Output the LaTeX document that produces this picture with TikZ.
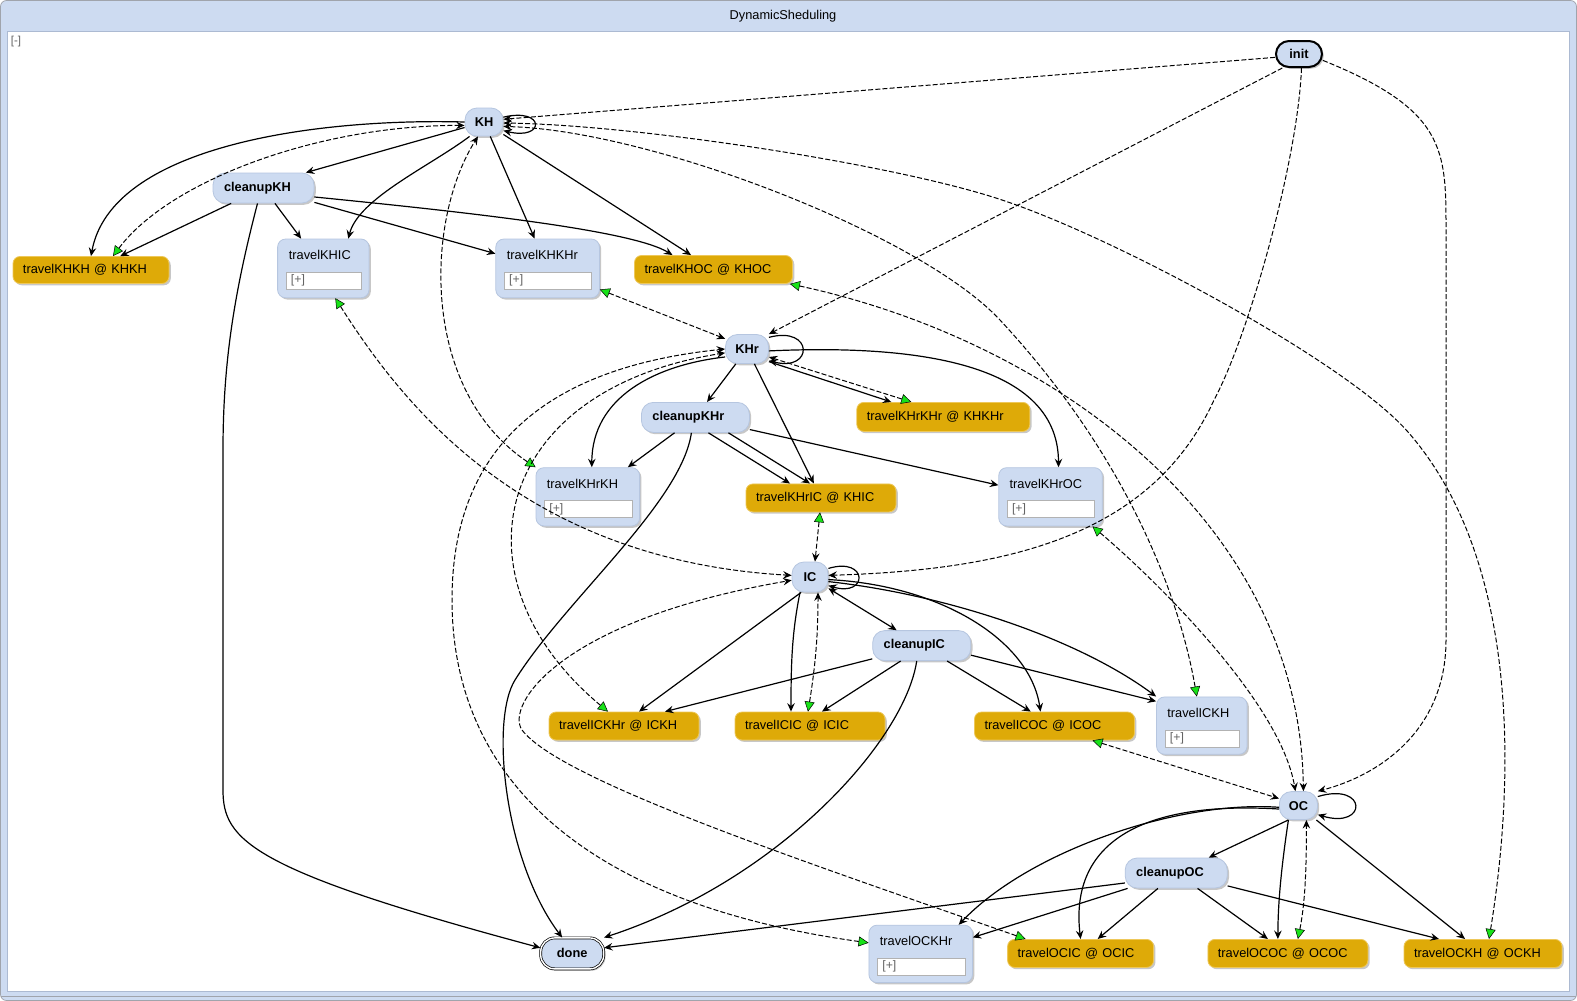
\documentclass[tikz,border=0pt]{standalone}
\usepackage{fontspec}
\setmainfont{Liberation Sans}
\usetikzlibrary{arrows.meta,shadows}

\definecolor{paneblue}{RGB}{205,219,241}
\definecolor{paneline}{RGB}{172,186,210}
\definecolor{framegrey}{RGB}{160,164,172}
\definecolor{stateblue}{RGB}{205,219,241}
\definecolor{stateline}{RGB}{182,198,224}
\definecolor{actiongold}{RGB}{222,170,8}
\definecolor{actionline}{RGB}{238,200,90}
\definecolor{exitgreen}{RGB}{24,226,24}
\definecolor{fieldline}{RGB}{178,178,178}
\definecolor{fieldtext}{RGB}{100,100,100}

\tikzset{every picture/.style={line width=0.75pt}}
\tikzset{
  softshadow/.style={drop shadow={shadow xshift=1.8pt,shadow yshift=-1.8pt,fill=black,opacity=0.22}},
  state/.style={softshadow, rounded corners=12pt, fill=stateblue, draw=stateline, line width=0.8pt, inner sep=0pt, font=\fontsize{12.8}{15}\selectfont\bfseries},
  cleanupstate/.style={state, inner xsep=11pt, text width=#1, align=left, minimum height=30pt},
  initstate/.style={state, draw=black, line width=2pt, rounded corners=13pt},
  finalstate/.style={state, draw=black, line width=0.7pt, double=white, double distance=1.4pt, rounded corners=14pt},
  action/.style={softshadow, rounded corners=7pt, fill=actiongold, draw=actionline, line width=0.8pt, inner xsep=10pt, inner ysep=0pt, minimum height=28pt, text width=#1, align=left, font=\fontsize{12.8}{15}\selectfont},
  travelbox/.style={softshadow, rounded corners=8pt, fill=stateblue, draw=stateline, line width=0.8pt, inner sep=0pt},
  boxtitle/.style={anchor=west, inner sep=0pt, font=\fontsize{12.8}{15}\selectfont},
  plusfield/.style={anchor=north west, draw=fieldline, fill=white, line width=0.7pt, inner xsep=5pt, inner ysep=0pt, minimum height=17pt, text width=#1, align=left, text=fieldtext, font=\fontsize{12.3}{14}\selectfont},
  trans/.style={line width=1.2pt, -{Stealth[length=8.5pt,width=7.5pt,inset=3pt]}},
  twoway/.style={line width=1.2pt, {Stealth[length=8.5pt,width=7.5pt,inset=3pt]}-{Stealth[length=8.5pt,width=7.5pt,inset=3pt]}},
  entry/.style={line width=1pt, dash pattern=on 5pt off 2.2pt, -{Stealth[length=8.5pt,width=7.5pt,inset=3pt]}},
  exit/.style={line width=1pt, dash pattern=on 5pt off 2.2pt, {Triangle[length=10pt,width=10pt,fill=exitgreen,line width=0.5pt]}-{Stealth[length=8.5pt,width=7.5pt,inset=3pt]}},
}

\begin{document}
\begin{tikzpicture}[x=1pt,y=1pt,yscale=-1,xscale=1]
  \useasboundingbox (0,0) rectangle (1577,1001);

  %Shape: Window frame
  \draw[draw=framegrey, fill=paneblue, rounded corners=6pt] (0.5,0.5) rectangle (1576.5,1000.5);
  \draw[draw=framegrey] (1,996) -- (1576,996);
  %Shape: Pane
  \draw[draw=paneline, fill=white] (7,31.5) rectangle (1569.5,991);
  % Text Node
  \node[font=\fontsize{12.8}{15}\selectfont] (title) at (783,16.5) {DynamicSheduling};
  % Text Node
  \node[anchor=west, inner sep=0pt, text=fieldtext, font=\fontsize{11.5}{13}\selectfont] (collapse) at (10.5,41.5) {[-]};

  %State: init
  \node[initstate, minimum width=46pt, minimum height=26pt] (init) at (1299,54) {init};
  %State: KH
  \node[state, minimum width=38pt, minimum height=28pt] (KH) at (484,122) {KH};
  \node[cleanupstate=79pt] (cKH) at (263.5,188) {cleanupKH};
  \node[action=136pt, minimum height=27pt] (tKHKH) at (91,270) {travelKHKH @ KHKH};
  \node[travelbox, minimum width=91.4pt, minimum height=58.7pt] (tKHIC) at (323.3,268.4) {};
  \node[boxtitle] (tKHIC-title) at (288.5,255) {travelKHIC};
  \node[plusfield=65.4pt] (tKHIC-field) at (285.6,271.5) {[+]};
  \node[travelbox, minimum width=103.6pt, minimum height=58.7pt] (tKHKHr) at (547.6,268.4) {};
  \node[boxtitle] (tKHKHr-title) at (506.5,255) {travelKHKHr};
  \node[plusfield=77.6pt] (tKHKHr-field) at (503.8,271.5) {[+]};
  \node[action=138pt] (tKHOC) at (713.5,269.5) {travelKHOC @ KHOC};

  %State: KHr
  \node[state, minimum width=43pt, minimum height=29pt] (KHr) at (747,349) {KHr};
  \node[cleanupstate=86pt] (cKHr) at (695.4,417.4) {cleanupKHr};
  \node[action=153pt, minimum height=29pt] (tKHrKHr) at (943.3,416.9) {travelKHrKHr @ KHKHr};
  \node[travelbox, minimum width=103.6pt, minimum height=58.3pt] (tKHrKH) at (587.8,496.8) {};
  \node[boxtitle] (tKHrKH-title) at (546.5,483.7) {travelKHrKH};
  \node[plusfield=77.6pt] (tKHrKH-field) at (544,500.2) {[+]};
  \node[action=130pt] (tKHrIC) at (821,497.9) {travelKHrIC @ KHIC};
  \node[travelbox, minimum width=103.5pt, minimum height=58.3pt] (tKHrOC) at (1050.5,496.8) {};
  \node[boxtitle] (tKHrOC-title) at (1009.2,483.7) {travelKHrOC};
  \node[plusfield=77.5pt] (tKHrOC-field) at (1006.7,500.2) {[+]};

  %State: IC
  \node[state, minimum width=36pt, minimum height=30pt] (IC) at (810,577) {IC};
  \node[cleanupstate=76pt] (cIC) at (921.7,645.6) {cleanupIC};
  \node[action=130pt] (tICKHr) at (624,726) {travelICKHr @ ICKH};
  \node[action=130pt] (tICIC) at (810,726) {travelICIC @ ICIC};
  \node[action=140pt] (tICOC) at (1054.5,726) {travelICOC @ ICOC};
  \node[travelbox, minimum width=90.5pt, minimum height=57.3pt] (tICKH) at (1201.8,725.6) {};
  \node[boxtitle] (tICKH-title) at (1167,713) {travelICKH};
  \node[plusfield=64.5pt] (tICKH-field) at (1164.6,729.5) {[+]};

  %State: OC
  \node[state, minimum width=38pt, minimum height=28pt] (OC) at (1298.4,805.6) {OC};
  \node[cleanupstate=80pt] (cOC) at (1176.2,873) {cleanupOC};
  \node[finalstate, minimum width=63pt, minimum height=31pt] (done) at (572.2,953.4) {done};
  \node[travelbox, minimum width=103.5pt, minimum height=57.4pt] (tOCKHr) at (920.7,953.9) {};
  \node[boxtitle] (tOCKHr-title) at (879.5,941.2) {travelOCKHr};
  \node[plusfield=77.5pt] (tOCKHr-field) at (877,957.7) {[+]};
  \node[action=126pt] (tOCIC) at (1080.6,953.4) {travelOCIC @ OCIC};
  \node[action=140pt] (tOCOC) at (1287.9,953.4) {travelOCOC @ OCOC};
  \node[action=138pt] (tOCKH) at (1483,953.4) {travelOCKH @ OCKH};

  %Transitions: init
  \draw[entry] (init.188) -- (KH.8);
  \draw[entry] (init.220) -- (KHr.north east);
  \draw[entry] (init.-80) .. controls (1298,160) and (1249,335) .. (1214,400) .. controls (1150,540) and (1000,570) .. (IC.5);
  \draw[entry] (init.-15) .. controls (1446,110) and (1446,150) .. (1446,230) -- (1446,640) .. controls (1446,730) and (1380,775) .. (OC.north east);

  %Transitions: KH
  \draw[trans] (KH.14) .. controls +(42,-10) and +(42,10) .. (KH.-24);
  \draw[trans] (KH) -- (cKH.20);
  \draw[trans] (KH.west) .. controls +(-150,-4) and +(20,-110) .. (tKHKH.north);
  \draw[trans] (cKH) -- (tKHKH);
  \draw[trans] (KH.225) .. controls +(-40,30) and +(10,-40) .. ([xshift=25pt]tKHIC.north);
  \draw[trans] (cKH) -- (tKHIC);
  \draw[trans] (KH) -- (tKHKHr);
  \draw[trans] (cKH) -- (tKHKHr);
  \draw[trans] (KH) -- (tKHOC);
  \draw[trans] (cKH.-10) .. controls +(150,15) and +(-40,-25) .. ([xshift=-41pt]tKHOC.north);
  \draw[trans] ([xshift=-6pt]cKH.south) .. controls (235,290) and (223,360) .. (223,450) -- (223,790) .. controls (223,840) and (250,870) .. (done.170);

  %Transitions: KHr
  \draw[trans] (KHr.28) .. controls +(45,-12) and +(45,12) .. (KHr.-28);
  \draw[trans] (KHr) -- (cKHr);
  \draw[trans] (KHr.200) .. controls +(-70,8) and +(0,-70) .. ([xshift=4pt]tKHrKH.north);
  \draw[trans] (cKHr) -- (tKHrKH);
  \draw[trans] (KHr) -- (tKHrIC);
  \draw[trans] ([xshift=13pt]cKHr.south) -- ([xshift=-31pt]tKHrIC.north);
  \draw[trans] ([xshift=33pt]cKHr.south) -- ([xshift=-11pt]tKHrIC.north);
  \draw[trans] (KHr.-30) -- ([xshift=-52pt]tKHrKHr.north);
  \draw[trans] (KHr.-5) .. controls +(130,-6) and +(0,-110) .. ([xshift=8pt]tKHrOC.north);
  \draw[trans] (cKHr) -- (tKHrOC);
  \draw[trans] ([xshift=-4pt]cKHr.south) .. controls +(-10,70) and +(50,-80) .. (515,680) .. controls +(-25,40) and +(-58,-77) .. ([xshift=-10pt]done.north);

  %Transitions: IC
  \draw[trans] (IC.25) .. controls +(40,-12) and +(40,12) .. (IC.-25);
  \draw[twoway] (IC) -- (cIC);
  \draw[trans] (IC.240) -- ([xshift=15pt]tICKHr.north);
  \draw[trans] (cIC.195) -- ([xshift=41pt]tICKHr.north);
  \draw[trans] ([xshift=-10pt]IC.south) .. controls +(-8,40) and +(0,-50) .. ([xshift=-19pt]tICIC.north);
  \draw[trans] ([xshift=-21pt]cIC.south) -- ([xshift=12pt]tICIC.north);
  \draw[trans] (IC.-8) .. controls (940,585) and (1030,640) .. ([xshift=-14pt]tICOC.north);
  \draw[trans] (cIC) -- (tICOC);
  \draw[trans] (IC.-14) .. controls (950,595) and (1080,640) .. (tICKH.north west);
  \draw[trans] (cIC.-11) -- (tICKH.152);
  \draw[trans] ([xshift=-5pt]cIC.south) .. controls (905,740) and (780,880) .. (done.north east);

  %Transitions: OC
  \draw[trans] (OC.25) .. controls +(50,-15) and +(50,15) .. (OC.-25);
  \draw[trans] (OC.235) -- (cOC);
  \draw[trans] (OC.185) .. controls (1180,800) and (1030,850) .. ([xshift=38pt]tOCKHr.north);
  \draw[trans] (cOC) -- (tOCKHr);
  \draw[trans] (OC.190) .. controls (1130,800) and (1070,850) .. (tOCIC.north);
  \draw[trans] (cOC) -- (tOCIC);
  \draw[trans] ([xshift=-10pt]OC.south) .. controls +(-6,40) and +(0,-40) .. ([xshift=-10pt]tOCOC.north);
  \draw[trans] (cOC) -- (tOCOC);
  \draw[trans] (OC) -- (tOCKH);
  \draw[trans] (cOC) -- ([xshift=-44pt]tOCKH.north);
  \draw[trans] (cOC.191) -- (done.10);

  %Transitions: travel exits
  \draw[exit] ([xshift=22pt]tKHKH.north) .. controls (170,180) and (320,125) .. (KH.190);
  \draw[exit] ([xshift=12pt]tKHIC.south) .. controls (400,400) and (520,560) .. (IC.175);
  \draw[exit] (tKHKHr.-22) -- (KHr.155);
  \draw[exit] ([xshift=-3pt]tKHOC.south east) .. controls (1050,340) and (1300,520) .. ([xshift=5pt]OC.north);
  \draw[exit] ([xshift=-32pt]tKHrKHr.north) -- (KHr.-20);
  \draw[exit] (tKHrKH.north west) .. controls (420,390) and (425,220) .. ([xshift=-6pt]KH.south);
  \draw[exit] ([xshift=-1pt]tKHrIC.south) -- ([xshift=5pt]IC.north);
  \draw[exit] ([xshift=42pt]tKHrOC.south) .. controls (1150,575) and (1280,700) .. ([xshift=-3pt]OC.north);
  \draw[exit] ([xshift=-16pt]tICKHr.north) .. controls (450,580) and (490,390) .. (KHr.190);
  \draw[exit] ([xshift=-2pt]tICIC.north) .. controls +(8,-50) and +(0,40) .. ([xshift=8pt]IC.south);
  \draw[exit] ([xshift=38pt]tICOC.south) -- (OC.160);
  \draw[exit] ([xshift=-5pt]tICKH.north) .. controls (1180,600) and (1130,460) .. (1000,320) .. controls (920,234) and (650,130) .. (KH.-13);
  \draw[exit] (tOCKHr.168) .. controls (560,900) and (452,760) .. (452,600) .. controls (452,470) and (520,370) .. (KHr.west);
  \draw[exit] ([xshift=-55pt]tOCIC.north) .. controls (800,860) and (560,780) .. (522,730) .. controls (505,705) and (560,620) .. (IC.190);
  \draw[exit] ([xshift=10pt]tOCOC.north) .. controls +(8,-40) and +(0,40) .. ([xshift=8pt]OC.south);
  \draw[exit] ([xshift=6pt]tOCKH.north) .. controls (1515,780) and (1520,560) .. (1408,432) .. controls (1348,363) and (1120,240) .. (1005,201) .. controls (900,165) and (640,125) .. (KH.-3);

\end{tikzpicture}
\end{document}
